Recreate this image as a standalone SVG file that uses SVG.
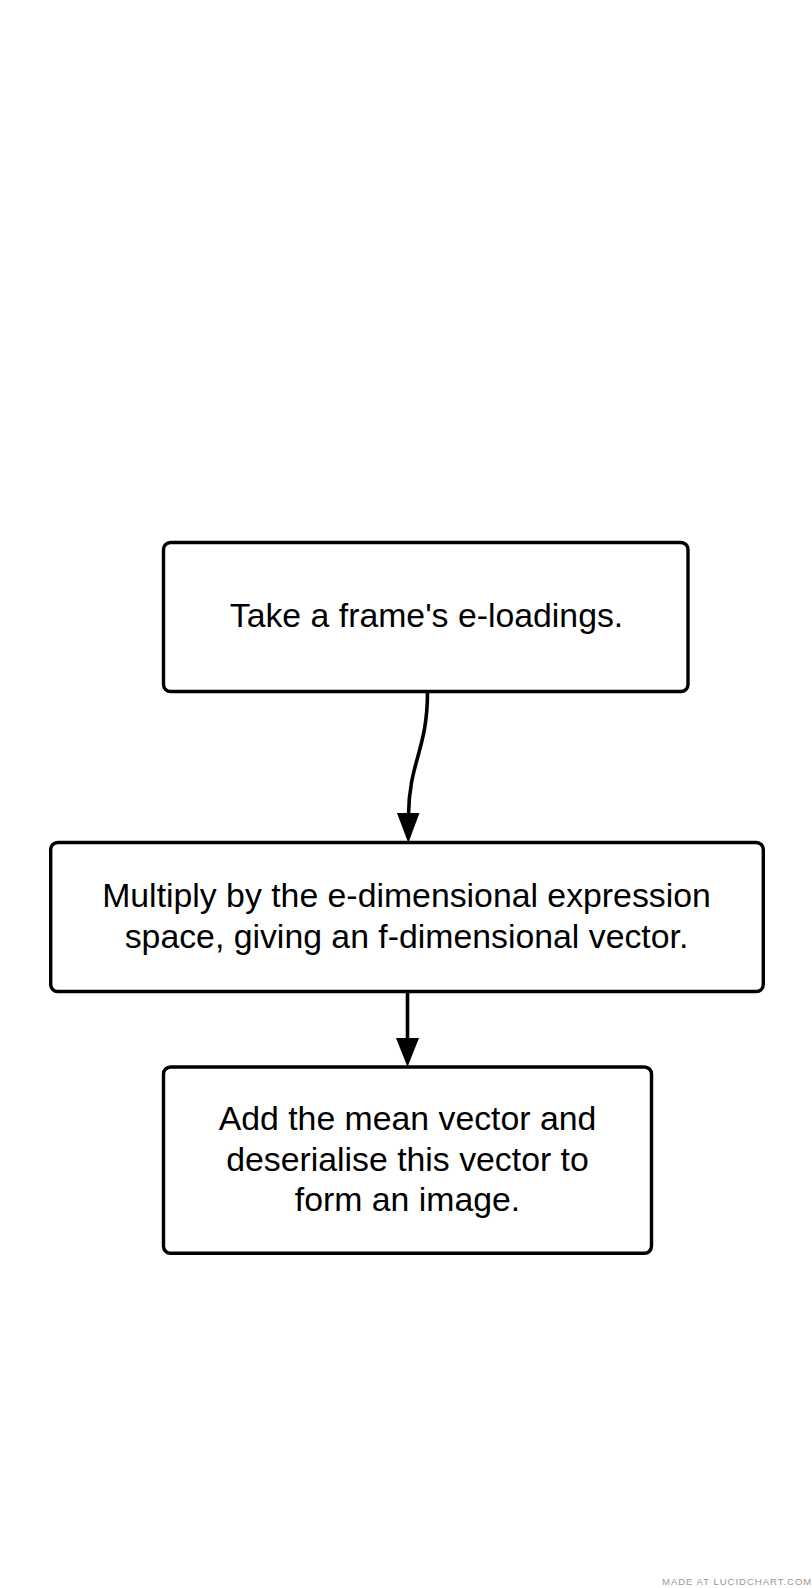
<svg xmlns="http://www.w3.org/2000/svg" width="812" height="1588" viewBox="0 0 812 1588">
<defs>
<style>
.box{fill:#fff;stroke:#000;stroke-width:3.4}
.t{font-family:"Liberation Sans",Arial,sans-serif;font-size:33.8px;fill:#000;text-anchor:middle}
.c{fill:none;stroke:#000;stroke-width:3.6}
.wm{font-family:"Liberation Sans",Arial,sans-serif;font-size:9.5px;letter-spacing:1px;fill:#999}
</style>
</defs>
<rect width="812" height="1588" fill="#fff"/>
<g id="connectors">
<path class="c" d="M427.5,692 C427.5,750 409,762 408.5,815"/>
<polygon points="397,813 419.5,813 408.3,843" fill="#000"/>
<path class="c" d="M407.5,992 L407.5,1040"/>
<polygon points="396,1038 419,1038 407.5,1067" fill="#000"/>
</g>
<g id="n1">
<rect class="box" x="163.5" y="542.5" width="524.5" height="149" rx="7"/>
<text class="t" x="426.5" y="627">Take a frame's e-loadings.</text>
</g>
<g id="n2">
<rect class="box" x="50.7" y="842.5" width="712.6" height="149" rx="7"/>
<text class="t" x="406.5" y="907">Multiply by the e-dimensional expression</text>
<text class="t" x="406.5" y="947.5">space, giving an f-dimensional vector.</text>
</g>
<g id="n3">
<rect class="box" x="163.5" y="1067" width="488" height="186.3" rx="7"/>
<text class="t" x="407.5" y="1130">Add the mean vector and</text>
<text class="t" x="407.5" y="1170.5">deserialise this vector to</text>
<text class="t" x="407.5" y="1211">form an image.</text>
</g>
<text class="wm" x="662" y="1585">MADE AT LUCIDCHART.COM</text>
</svg>
